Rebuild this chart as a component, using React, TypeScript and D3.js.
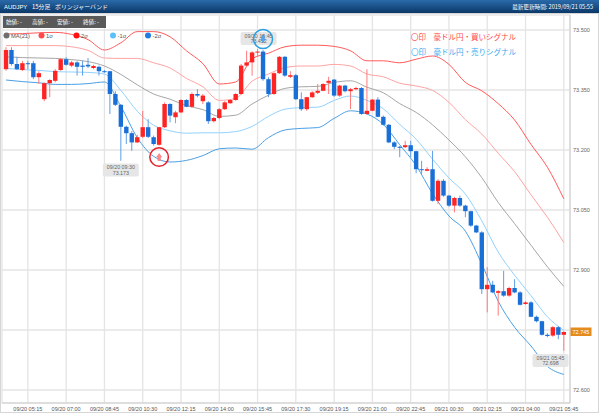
import React from 'react';
import * as d3 from 'd3';

const W = 599;
const H = 413;
const FONT = "'Liberation Sans', Arial, 'Noto Sans CJK JP', sans-serif";
const JFONT = "'Noto Sans CJK JP', 'Liberation Sans', sans-serif";

// 15-minute candles, 09/20 04:15 .. 09/21 05:45
const openP = [73.402, 73.450, 73.415, 73.400, 73.417, 73.417, 73.382, 73.327, 73.367, 73.373,
  73.400, 73.427, 73.411, 73.419, 73.411, 73.413, 73.405, 73.408, 73.397, 73.397,
  73.340, 73.313, 73.258, 73.242, 73.219, 73.233, 73.257, 73.232, 73.213, 73.257,
  73.315, 73.282, 73.294, 73.325, 73.308, 73.340, 73.322, 73.319, 73.272, 73.280,
  73.302, 73.317, 73.325, 73.340, 73.411, 73.419, 73.444, 73.446, 73.377, 73.340,
  73.392, 73.433, 73.383, 73.387, 73.327, 73.302, 73.332, 73.343, 73.348, 73.368,
  73.376, 73.336, 73.361, 73.347, 73.352, 73.355, 73.290, 73.298, 73.326, 73.283,
  73.263, 73.219, 73.208, 73.207, 73.212, 73.197, 73.152, 73.148, 73.152, 73.073,
  73.123, 73.086, 73.061, 73.080, 73.061, 73.047, 73.011, 72.994, 72.852, 72.863,
  72.843, 72.847, 72.836, 72.855, 72.844, 72.815, 72.819, 72.783, 72.772, 72.738,
  72.736, 72.757, 72.738];
const highP = [73.457, 73.457, 73.433, 73.423, 73.423, 73.423, 73.397, 73.369, 73.377, 73.402,
  73.430, 73.432, 73.423, 73.422, 73.423, 73.430, 73.413, 73.411, 73.400, 73.398,
  73.347, 73.315, 73.261, 73.247, 73.238, 73.298, 73.277, 73.236, 73.258, 73.319,
  73.317, 73.298, 73.327, 73.327, 73.344, 73.352, 73.340, 73.322, 73.283, 73.305,
  73.322, 73.327, 73.342, 73.415, 73.448, 73.447, 73.452, 73.450, 73.382, 73.394,
  73.435, 73.435, 73.397, 73.390, 73.344, 73.333, 73.347, 73.365, 73.367, 73.383,
  73.377, 73.363, 73.363, 73.355, 73.358, 73.357, 73.402, 73.327, 73.332, 73.286,
  73.265, 73.222, 73.210, 73.223, 73.223, 73.198, 73.173, 73.157, 73.198, 73.127,
  73.127, 73.088, 73.083, 73.086, 73.063, 73.048, 73.013, 72.997, 72.907, 72.873,
  72.850, 72.898, 72.858, 72.877, 72.847, 72.822, 72.822, 72.786, 72.773, 72.742,
  72.760, 72.760, 72.747];
const lowP = [73.398, 73.411, 73.400, 73.397, 73.402, 73.377, 73.365, 73.322, 73.332, 73.369,
  73.398, 73.411, 73.407, 73.386, 73.386, 73.405, 73.402, 73.386, 73.393, 73.290,
  73.310, 73.173, 73.215, 73.198, 73.217, 73.230, 73.230, 73.211, 73.211, 73.255,
  73.269, 73.267, 73.292, 73.307, 73.305, 73.332, 73.315, 73.265, 73.269, 73.277,
  73.300, 73.315, 73.323, 73.338, 73.407, 73.386, 73.433, 73.373, 73.332, 73.338,
  73.390, 73.383, 73.380, 73.325, 73.298, 73.298, 73.330, 73.340, 73.347, 73.340,
  73.333, 73.333, 73.344, 73.302, 73.350, 73.288, 73.288, 73.297, 73.282, 73.261,
  73.217, 73.202, 73.182, 73.205, 73.182, 73.142, 73.140, 73.147, 73.071, 73.065,
  73.083, 73.058, 73.044, 73.058, 73.032, 73.008, 72.992, 72.840, 72.794, 72.842,
  72.786, 72.833, 72.833, 72.842, 72.811, 72.813, 72.782, 72.769, 72.736, 72.732,
  72.733, 72.727, 72.698];
const closeP = [73.450, 73.415, 73.402, 73.417, 73.415, 73.382, 73.392, 73.367, 73.375, 73.398,
  73.427, 73.413, 73.419, 73.408, 73.408, 73.409, 73.410, 73.397, 73.396, 73.340,
  73.313, 73.258, 73.242, 73.219, 73.232, 73.257, 73.233, 73.215, 73.257, 73.315,
  73.286, 73.294, 73.325, 73.308, 73.340, 73.336, 73.336, 73.272, 73.280, 73.302,
  73.319, 73.325, 73.340, 73.411, 73.419, 73.444, 73.446, 73.377, 73.340, 73.392,
  73.433, 73.386, 73.387, 73.327, 73.302, 73.332, 73.344, 73.348, 73.365, 73.373,
  73.336, 73.361, 73.347, 73.352, 73.355, 73.290, 73.298, 73.326, 73.283, 73.263,
  73.219, 73.208, 73.207, 73.212, 73.197, 73.152, 73.150, 73.152, 73.073, 73.123,
  73.086, 73.061, 73.080, 73.061, 73.047, 73.011, 72.994, 72.852, 72.863, 72.844,
  72.847, 72.836, 72.855, 72.844, 72.813, 72.819, 72.783, 72.772, 72.738, 72.735,
  72.757, 72.738, 72.745];

// Bollinger band readings (every 3rd candle)
const bandIdx = [0, 3, 6, 9, 12, 15, 18, 21, 24, 27, 30, 33, 36, 39, 42, 45, 48, 51, 54, 57,
  60, 63, 66, 69, 72, 75, 78, 81, 84, 87, 90, 93, 96, 99, 102];
const up2 = [73.490, 73.491, 73.493, 73.494, 73.489, 73.476, 73.450, 73.468, 73.496, 73.496,
  73.483, 73.448, 73.416, 73.365, 73.370, 73.428, 73.442, 73.458, 73.462, 73.462,
  73.459, 73.448, 73.423, 73.423, 73.418, 73.427, 73.435, 73.414, 73.369, 73.348,
  73.316, 73.275, 73.214, 73.157, 73.078];
const up1 = [73.461, 73.461, 73.461, 73.461, 73.458, 73.449, 73.430, 73.429, 73.429, 73.418,
  73.405, 73.379, 73.358, 73.324, 73.329, 73.372, 73.390, 73.406, 73.410, 73.410,
  73.414, 73.410, 73.390, 73.383, 73.367, 73.360, 73.349, 73.319, 73.276, 73.240,
  73.192, 73.146, 73.088, 73.032, 72.969];
const ma21 = [73.433, 73.431, 73.430, 73.429, 73.426, 73.421, 73.410, 73.389, 73.363, 73.340,
  73.327, 73.311, 73.301, 73.284, 73.287, 73.315, 73.337, 73.354, 73.358, 73.359,
  73.369, 73.373, 73.357, 73.343, 73.316, 73.294, 73.263, 73.225, 73.183, 73.131,
  73.069, 73.016, 72.962, 72.908, 72.859];
const dn1 = [73.404, 73.401, 73.399, 73.396, 73.395, 73.394, 73.390, 73.349, 73.297, 73.262,
  73.248, 73.242, 73.243, 73.243, 73.246, 73.259, 73.284, 73.302, 73.306, 73.307,
  73.324, 73.335, 73.324, 73.303, 73.264, 73.227, 73.177, 73.130, 73.090, 73.023,
  72.945, 72.887, 72.836, 72.783, 72.749];
const dn2 = [73.375, 73.371, 73.368, 73.364, 73.364, 73.366, 73.370, 73.309, 73.231, 73.184,
  73.170, 73.174, 73.186, 73.203, 73.205, 73.202, 73.231, 73.250, 73.254, 73.256,
  73.279, 73.298, 73.290, 73.264, 73.213, 73.161, 73.091, 73.035, 72.997, 72.915,
  72.822, 72.757, 72.710, 72.659, 72.639];

const xTickIdx = [4, 11, 18, 25, 32, 39, 46, 53, 60, 67, 74, 81, 88, 95, 102];
const xTickLabels = ['09/20 05:15', '09/20 07:00', '09/20 08:45', '09/20 10:30', '09/20 12:15',
  '09/20 14:00', '09/20 15:45', '09/20 17:30', '09/20 19:15', '09/20 21:00', '09/20 22:45',
  '09/21 00:30', '09/21 02:15', '09/21 04:00', '09/21 05:45'];
const yTicks = [73.5, 73.35, 73.2, 73.05, 72.9, 72.75, 72.6];
// 72.750 label is covered by the current-price tag in the reference
const yTickLabels = ['73.500', '73.350', '73.200', '73.050', '72.900', '', '72.600'];

const legendItems = ['MA(21)', '1σ', '2σ', '-1σ', '-2σ'];
const legendColors = ['#6e6e6e', '#ff4a4a', '#ff1010', '#5cc0fa', '#1f7ddf'];
const ohlcLabels = ['始値: -', '高値: -', '安値: -', '終値: -'];

const lowIdx = 21;
const lowLabel = ['09/20 09:30', '73.173'];
const highIdx = 46;
const highLabel = ['09/20 15:45', '73.452'];
const lastLabel = ['09/21 05:45', '72.698'];
const buyIdx = 28;
const sellIdx = 47;
const lastPrice = 72.745;

const UP = '#ff2424';
const DOWN = '#1a6fd6';

export default function App() {
  const x = d3.scaleLinear().domain([0, 102]).range([6, 563.8]);
  const y = d3.scaleLinear().domain([72.5675, 73.5375]).range([403, 15]);
  const idx = d3.range(openP.length);

  const line = d3.line<number>()
    .x((_, k) => x(bandIdx[k]))
    .y((d) => y(d))
    .curve(d3.curveMonotoneX);

  const bands = [
    { data: up2, color: '#ff5a5a' },
    { data: up1, color: '#ffa3a3' },
    { data: ma21, color: '#a6a6a6' },
    { data: dn1, color: '#92d2ff' },
    { data: dn2, color: '#4a9fe6' },
  ];

  const bw = 4.4;
  const legendX = [6.5, 41.5, 76.5, 113, 148];
  const ohlcX = [6, 32, 57, 83];

  const infoBox = (cx: number, top: number, lines: string[], key: string) => (
    <g key={key}>
      <rect x={cx - 18} y={top} width={36} height={13} rx={2} fill="#e6e6e6" />
      <text x={cx} y={top + 5.6} fontSize={5.3} fill="#666" textAnchor="middle" fontFamily={FONT}>{lines[0]}</text>
      <text x={cx} y={top + 11.4} fontSize={5.3} fill="#666" textAnchor="middle" fontFamily={FONT}>{lines[1]}</text>
    </g>
  );

  const bx = x(buyIdx);
  const by = y(73.1825);
  const sx = x(sellIdx);
  const sy = 39;

  return (
    <svg width={W} height={H} style={{ position: 'absolute', left: 0, top: 0, background: '#fff' }}>
      <defs>
        <linearGradient id="hdr" x1="0" y1="0" x2="0" y2="1">
          <stop offset="0" stopColor="#2a6aaa" />
          <stop offset="1" stopColor="#0b3868" />
        </linearGradient>
      </defs>
      <rect x={0} y={0} width={W} height={H} fill="#fff" />
      {/* header */}
      <rect x={0} y={0} width={W} height={13} fill="url(#hdr)" />
      <text x={4} y={9.2} fontSize={5.9} fill="#fff" fontFamily={FONT}>AUDJPY</text>
      <text x={32} y={9.2} fontSize={5.9} fill="#fff" fontFamily={JFONT}>15分足</text>
      <text x={55} y={9.2} fontSize={5.9} fill="#fff" fontFamily={JFONT}>ボリンジャーバンド</text>
      <text x={593} y={9.2} fontSize={5.6} fill="#fff" textAnchor="end" fontFamily={JFONT}>最新更新時間: 2019/09/21 05:55</text>

      {/* frame */}
      <rect x={0.5} y={13.5} width={598} height={399} fill="none" stroke="#d6d6d6" />
      <rect x={2} y={15} width={568} height={388} fill="none" stroke="#dcdcdc" />

      {/* grid */}
      {yTicks.map((t) => (
        <line key={'gy' + t} x1={2} x2={570} y1={y(t)} y2={y(t)} stroke="#e4e4e4" strokeWidth={1.3} />
      ))}
      {xTickIdx.map((t) => (
        <line key={'gx' + t} x1={x(t)} x2={x(t)} y1={15} y2={403} stroke="#e4e4e4" strokeWidth={1.3} />
      ))}
      <line x1={570} x2={570} y1={15} y2={403} stroke="#cfcfcf" />
      <line x1={2} x2={570} y1={403} y2={403} stroke="#cfcfcf" />

      {/* axis labels */}
      {yTicks.map((t, k) => (yTickLabels[k] ? (
        <text key={'ly' + t} x={573} y={y(t) + 2} fontSize={5.5} fill="#666" fontFamily={FONT}>{yTickLabels[k]}</text>
      ) : null))}
      {xTickIdx.map((t, k) => (
        <text key={'lx' + t} x={x(t)} y={410.5} fontSize={5.5} fill="#555" textAnchor="middle" fontFamily={FONT}>{xTickLabels[k]}</text>
      ))}

      {/* bands */}
      {bands.map((b, k) => (
        <path key={'b' + k} d={line(b.data) || ''} fill="none" stroke={b.color} strokeWidth={1} />
      ))}

      {/* candles */}
      {idx.map((i) => {
        const o = openP[i], c = closeP[i], h = highP[i], l = lowP[i];
        const up = c >= o;
        const top = y(Math.max(o, c));
        const bot = y(Math.min(o, c));
        const cx = x(i);
        return (
          <g key={'c' + i}>
            <line x1={cx} x2={cx} y1={y(h)} y2={y(l)} stroke={up ? '#ff7a7a' : '#5d9fe8'} strokeWidth={1} />
            <rect x={cx - bw / 2} y={top} width={bw} height={Math.max(1, bot - top)} fill={up ? UP : DOWN} />
          </g>
        );
      })}

      {/* ohlc box */}
      <rect x={3} y={16} width={103} height={12} fill="#595959" />
      {ohlcLabels.map((t, k) => (
        <text key={'o' + k} x={ohlcX[k]} y={24.3} fontSize={5.6} fill="#fff" fontFamily={JFONT}>{t}</text>
      ))}

      {/* legend */}
      {legendItems.map((t, k) => (
        <g key={'lg' + k}>
          <circle cx={legendX[k]} cy={35.5} r={3} fill={legendColors[k]} />
          <text x={legendX[k] + 4.5} y={37.6} fontSize={5.8} fill="#555" fontFamily={FONT}>{t}</text>
        </g>
      ))}

      {/* signal legend */}
      <text x={411} y={40} fontSize={7.5} fill="#ff4545" fontFamily={JFONT}>〇印　豪ドル円・買いシグナル</text>
      <text x={411} y={55} fontSize={7.5} fill="#35aaf0" fontFamily={JFONT}>〇印　豪ドル円・売りシグナル</text>

      {/* info labels */}
      {infoBox(x(lowIdx), 163.5, lowLabel, 'low')}
      {infoBox(x(highIdx) + 1, 32, highLabel, 'high')}
      {infoBox(550.5, 354, lastLabel, 'last')}

      {/* signals */}
      <circle cx={bx} cy={by} r={9.3} fill="none" stroke="#e3202b" strokeWidth={1.5} />
      <path d={`M${bx - 1.2},${by + 3.5} L${bx - 1.2},${by} L${bx - 2.4},${by} L${bx},${by - 3.5} L${bx + 2.4},${by} L${bx + 1.2},${by} L${bx + 1.2},${by + 3.5} Z`} fill="#ff8f8f" stroke="#ff5c5c" strokeWidth={0.5} />
      <circle cx={sx} cy={sy} r={9.5} fill="none" stroke="#2a9fe2" strokeWidth={1.5} />
      <path d={`M${sx - 1.2},${sy - 3.5} L${sx - 1.2},${sy} L${sx - 2.4},${sy} L${sx},${sy + 3.5} L${sx + 2.4},${sy} L${sx + 1.2},${sy} L${sx + 1.2},${sy - 3.5} Z`} fill="#5aa6f0" stroke="#2f86df" strokeWidth={0.5} />

      {/* current price */}
      <rect x={570.5} y={y(lastPrice) - 4.5} width={21} height={8.5} fill="#e38b1c" />
      <text x={572.5} y={y(lastPrice) + 1.8} fontSize={5.5} fill="#fff" fontFamily={FONT}>{lastPrice.toFixed(3)}</text>
    </svg>
  );
}
